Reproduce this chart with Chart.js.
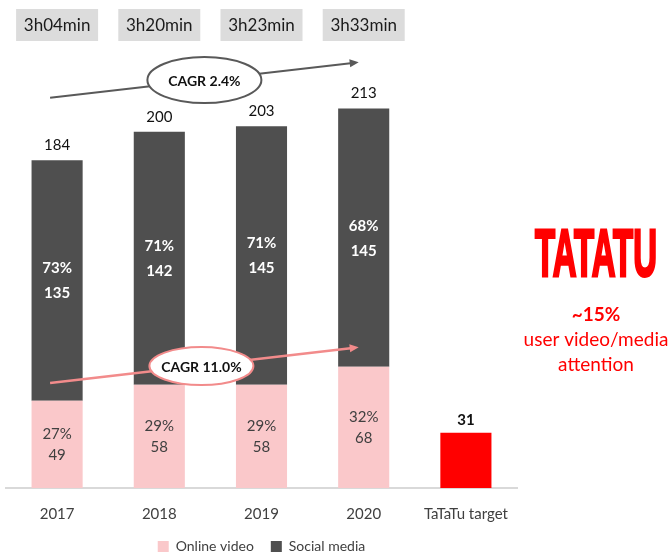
<!DOCTYPE html>
<html>
<head>
<meta charset="utf-8">
<script src="https://cdn.jsdelivr.net/npm/chart.js@4"></script>
<style>
  body { margin: 0; background: #fff; }
  #chart { display: block; }
</style>
</head>
<body>
<canvas id="chart" width="671" height="556"></canvas>
<script>
const years = ["2017", "2018", "2019", "2020", "TaTaTu target"];
const onlineVideo = [49, 58, 58, 68, null];
const socialMedia = [135, 142, 145, 145, null];
const tatatuTarget = [null, null, null, null, 31];
const dailyTime = ["3h04min", "3h20min", "3h23min", "3h33min"];
const cagrTotal = "CAGR 2.4%";
const cagrVideo = "CAGR 11.0%";
const targetShare = "~15%";
const targetNote = ["user video/media", "attention"];

const FONT = "Lato, 'Liberation Sans', sans-serif";

function arrow(ctx, x0, y0, x1, y1, color, width) {
  const a = Math.atan2(y1 - y0, x1 - x0);
  ctx.strokeStyle = color;
  ctx.fillStyle = color;
  ctx.lineWidth = width;
  ctx.beginPath();
  ctx.moveTo(x0, y0);
  ctx.lineTo(x1 - 6 * Math.cos(a), y1 - 6 * Math.sin(a));
  ctx.stroke();
  ctx.beginPath();
  ctx.moveTo(x1, y1);
  ctx.lineTo(x1 - 9 * Math.cos(a) + 4 * Math.sin(a), y1 - 9 * Math.sin(a) - 4 * Math.cos(a));
  ctx.lineTo(x1 - 9 * Math.cos(a) - 4 * Math.sin(a), y1 - 9 * Math.sin(a) + 4 * Math.cos(a));
  ctx.closePath();
  ctx.fill();
}

function bubble(ctx, cx, cy, rx, ry, color, text) {
  ctx.beginPath();
  ctx.ellipse(cx, cy, rx, ry, 0, 0, Math.PI * 2);
  ctx.fillStyle = "#fff";
  ctx.fill();
  ctx.strokeStyle = color;
  ctx.lineWidth = 2;
  ctx.stroke();
  ctx.fillStyle = "#111";
  ctx.font = "bold 14px " + FONT;
  ctx.fillText(text, cx, cy + 1);
}

const overlay = {
  id: "overlay",
  afterDatasetsDraw(chart) {
    const ctx = chart.ctx;
    const x = chart.scales.x, y = chart.scales.y;
    const video = chart.getDatasetMeta(0).data;
    const social = chart.getDatasetMeta(1).data;
    const target = chart.getDatasetMeta(2).data;
    ctx.save();
    ctx.textAlign = "center";
    ctx.textBaseline = "middle";

    // labels inside and above the stacked bars
    onlineVideo.forEach((v, i) => {
      if (v == null) return;
      const total = v + socialMedia[i];
      const pv = video[i], ps = social[i];
      const cv = (pv.y + pv.base) / 2;
      ctx.fillStyle = "#404040";
      ctx.font = "15px " + FONT;
      ctx.fillText(Math.round(v / total * 100) + "%", pv.x, cv - 10);
      ctx.fillText(v, pv.x, cv + 11);
      const cs = (ps.y + ps.base) / 2;
      ctx.fillStyle = "#fff";
      ctx.font = "bold 15px " + FONT;
      ctx.fillText(Math.round(socialMedia[i] / total * 100) + "%", ps.x, cs - 12);
      ctx.fillText(socialMedia[i], ps.x, cs + 13);
      ctx.fillStyle = "#111";
      ctx.font = "15px " + FONT;
      ctx.fillText(total, ps.x, ps.y - 15);
    });
    tatatuTarget.forEach((v, i) => {
      if (v == null) return;
      ctx.fillStyle = "#111";
      ctx.font = "bold 15px " + FONT;
      ctx.fillText(v, target[i].x, target[i].y - 13);
    });

    // daily time boxes
    dailyTime.forEach((t, i) => {
      const cx = x.getPixelForValue(i);
      ctx.fillStyle = "#DCDCDC";
      ctx.fillRect(cx - 41, 9, 82, 32);
      ctx.fillStyle = "#1a1a1a";
      ctx.font = "17px " + FONT;
      ctx.fillText(t, cx, 26);
    });

    // CAGR arrows
    let x0 = x.getPixelForValue(0) - 7, x1 = x.getPixelForValue(3) - 5;
    let y0 = y.getPixelForValue(219), y1 = y.getPixelForValue(239);
    arrow(ctx, x0, y0, x1, y1, "#595959", 2);
    bubble(ctx, (x0 + x1) / 2, (y0 + y1) / 2, 57, 23, "#595959", cagrTotal);
    y0 = y.getPixelForValue(59); y1 = y.getPixelForValue(79);
    arrow(ctx, x0, y0, x1, y1, "#F28B8B", 2.5);
    bubble(ctx, (x0 + x1) / 2 - 3, (y0 + y1) / 2 + 1, 52, 19, "#F28B8B", cagrVideo);

    // TaTaTu side text
    const cx = (chart.chartArea.right + chart.width) / 2 + 2;
    ctx.fillStyle = "#FF0000";
    ctx.strokeStyle = "#FF0000";
    ctx.save();
    ctx.font = "bold 66px 'Liberation Sans', sans-serif";
    ctx.textBaseline = "alphabetic";
    const w = ctx.measureText("TATATU").width;
    ctx.translate(cx, 276);
    ctx.scale(122 / w, 1);
    ctx.lineWidth = 3;
    ctx.fillText("TATATU", 0, 0);
    ctx.strokeText("TATATU", 0, 0);
    ctx.restore();
    ctx.font = "bold 19px " + FONT;
    ctx.fillText(targetShare, cx, 315);
    ctx.font = "19px " + FONT;
    ctx.fillText(targetNote[0], cx, 340);
    ctx.fillText(targetNote[1], cx, 365);
    ctx.restore();
  }
};

new Chart(document.getElementById("chart"), {
  type: "bar",
  data: {
    labels: years,
    datasets: [
      { label: "Online video", data: onlineVideo, backgroundColor: "#FAC8CA" },
      { label: "Social media", data: socialMedia, backgroundColor: "#4F4F4F" },
      { label: "TaTaTu target", data: tatatuTarget, backgroundColor: "#FF0000" }
    ]
  },
  options: {
    responsive: false,
    animation: false,
    layout: { padding: { top: 7, right: 154, left: 6, bottom: 0 } },
    datasets: { bar: { categoryPercentage: 1, barPercentage: 0.5 } },
    scales: {
      x: {
        stacked: true,
        grid: { display: false },
        border: { color: "#D9D9D9", width: 2 },
        ticks: { color: "#404040", font: { size: 15, family: FONT }, padding: 9 },
        afterFit: (scale) => { scale.height = 34.5; }
      },
      y: { stacked: true, display: false, min: 0, max: 270 }
    },
    plugins: {
      legend: {
        position: "bottom",
        fullSize: false,
        maxHeight: 33.5,
        labels: {
          filter: (item) => item.datasetIndex < 2,
          boxWidth: 11,
          boxHeight: 11,
          color: "#404040",
          font: { size: 14, family: FONT },
          padding: 17
        }
      },
      tooltip: { enabled: false }
    }
  },
  plugins: [overlay]
});
</script>
</body>
</html>
